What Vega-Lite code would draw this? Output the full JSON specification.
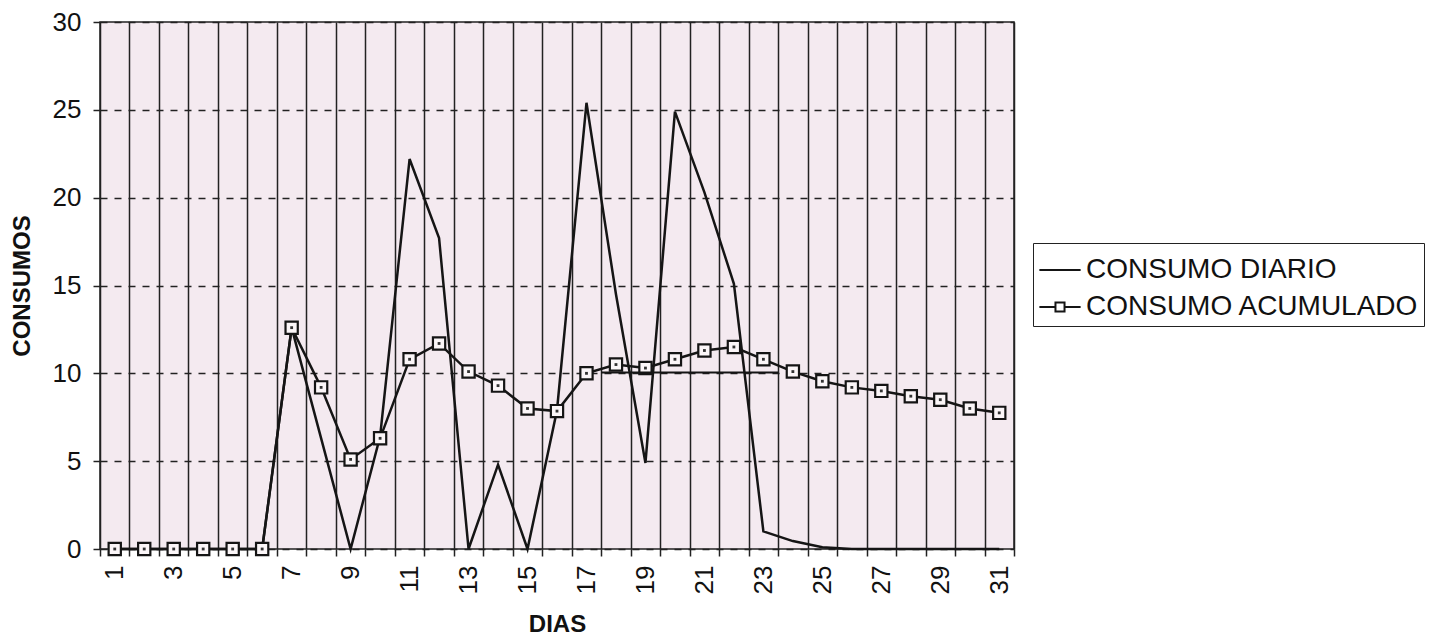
{
  "$schema": "https://vega.github.io/schema/vega-lite/v6.json",
  "width": 914,
  "height": 527,
  "autosize": "none",
  "padding": {"left": 100, "top": 22, "right": 429, "bottom": 92},
  "background": "white",
  "config": {
    "font": "Liberation Sans",
    "view": {"fill": "#f4eaf0", "stroke": "#222222", "strokeWidth": 1.5},
    "axis": {"labelFont": "Liberation Sans", "titleFont": "Liberation Sans", "labelColor": "#111111", "titleColor": "#111111", "domain": false, "tickColor": "#222222", "tickWidth": 1.5}
  },
  "datasets": {
    "consumo": [
      {"dia": 1, "CONSUMO DIARIO": 0, "CONSUMO ACUMULADO": 0},
      {"dia": 2, "CONSUMO DIARIO": 0, "CONSUMO ACUMULADO": 0},
      {"dia": 3, "CONSUMO DIARIO": 0, "CONSUMO ACUMULADO": 0},
      {"dia": 4, "CONSUMO DIARIO": 0, "CONSUMO ACUMULADO": 0},
      {"dia": 5, "CONSUMO DIARIO": 0, "CONSUMO ACUMULADO": 0},
      {"dia": 6, "CONSUMO DIARIO": 0, "CONSUMO ACUMULADO": 0},
      {"dia": 7, "CONSUMO DIARIO": 12.6, "CONSUMO ACUMULADO": 12.6},
      {"dia": 8, "CONSUMO DIARIO": 6.3, "CONSUMO ACUMULADO": 9.2},
      {"dia": 9, "CONSUMO DIARIO": 0, "CONSUMO ACUMULADO": 5.1},
      {"dia": 10, "CONSUMO DIARIO": 6.4, "CONSUMO ACUMULADO": 6.3},
      {"dia": 11, "CONSUMO DIARIO": 22.2, "CONSUMO ACUMULADO": 10.8},
      {"dia": 12, "CONSUMO DIARIO": 17.7, "CONSUMO ACUMULADO": 11.7},
      {"dia": 13, "CONSUMO DIARIO": 0, "CONSUMO ACUMULADO": 10.1},
      {"dia": 14, "CONSUMO DIARIO": 4.8, "CONSUMO ACUMULADO": 9.3},
      {"dia": 15, "CONSUMO DIARIO": 0, "CONSUMO ACUMULADO": 8.0},
      {"dia": 16, "CONSUMO DIARIO": 7.9, "CONSUMO ACUMULADO": 7.85},
      {"dia": 17, "CONSUMO DIARIO": 25.4, "CONSUMO ACUMULADO": 10.0},
      {"dia": 18, "CONSUMO DIARIO": 14.5, "CONSUMO ACUMULADO": 10.5},
      {"dia": 19, "CONSUMO DIARIO": 4.9, "CONSUMO ACUMULADO": 10.3},
      {"dia": 20, "CONSUMO DIARIO": 24.9, "CONSUMO ACUMULADO": 10.8},
      {"dia": 21, "CONSUMO DIARIO": 20.3, "CONSUMO ACUMULADO": 11.3},
      {"dia": 22, "CONSUMO DIARIO": 15.1, "CONSUMO ACUMULADO": 11.5},
      {"dia": 23, "CONSUMO DIARIO": 1.0, "CONSUMO ACUMULADO": 10.8},
      {"dia": 24, "CONSUMO DIARIO": 0.45, "CONSUMO ACUMULADO": 10.1},
      {"dia": 25, "CONSUMO DIARIO": 0.1, "CONSUMO ACUMULADO": 9.55},
      {"dia": 26, "CONSUMO DIARIO": 0, "CONSUMO ACUMULADO": 9.2},
      {"dia": 27, "CONSUMO DIARIO": 0, "CONSUMO ACUMULADO": 9.0},
      {"dia": 28, "CONSUMO DIARIO": 0, "CONSUMO ACUMULADO": 8.7},
      {"dia": 29, "CONSUMO DIARIO": 0, "CONSUMO ACUMULADO": 8.5},
      {"dia": 30, "CONSUMO DIARIO": 0, "CONSUMO ACUMULADO": 8.0},
      {"dia": 31, "CONSUMO DIARIO": 0, "CONSUMO ACUMULADO": 7.75}
    ],
    "tramo": [
      {"desde": 17.5, "hasta": 23.5, "nivel": 10.05}
    ]
  },
  "layer": [
    {
      "data": {"name": "consumo"},
      "transform": [{"fold": ["CONSUMO DIARIO", "CONSUMO ACUMULADO"], "as": ["serie", "valor"]}],
      "mark": {"type": "line", "strokeWidth": 2.5},
      "encoding": {
        "x": {
          "field": "dia", "type": "quantitative",
          "scale": {"domain": [0.5, 31.5], "nice": false, "zero": false},
          "axis": {
            "values": [0.5, 1.5, 2.5, 3.5, 4.5, 5.5, 6.5, 7.5, 8.5, 9.5, 10.5, 11.5, 12.5, 13.5, 14.5, 15.5, 16.5, 17.5, 18.5, 19.5, 20.5, 21.5, 22.5, 23.5, 24.5, 25.5, 26.5, 27.5, 28.5, 29.5, 30.5, 31.5],
            "tickCount": 40,
            "labelExpr": "((datum.value + 0.5) % 2 == 1 && datum.value < 31) ? '' + (datum.value + 0.5) : ''",
            "labelOffset": 14.74,
            "labelAngle": -90,
            "labelFontSize": 26,
            "labelPadding": 9,
            "labelFlush": false,
            "labelOverlap": false,
            "labelBound": false,
            "tickSize": 7,
            "grid": true,
            "gridColor": "#222222",
            "gridWidth": 1.5,
            "gridOpacity": 1,
            "title": "DIAS",
            "titleFontSize": 24,
            "titleFontWeight": "bold",
            "titlePadding": 19
          }
        },
        "y": {
          "field": "valor", "type": "quantitative",
          "scale": {"domain": [0, 30], "nice": false},
          "axis": {
            "values": [0, 5, 10, 15, 20, 25, 30],
            "labelFontSize": 26,
            "labelPadding": 12,
            "tickSize": 7,
            "grid": true,
            "gridColor": "#222222",
            "gridWidth": 1.5,
            "gridOpacity": 1,
            "gridDash": [7, 7],
            "title": "CONSUMOS",
            "titleFontSize": 24,
            "titleFontWeight": "bold",
            "titlePadding": 18
          }
        },
        "color": {
          "field": "serie", "type": "nominal",
          "scale": {"domain": ["CONSUMO DIARIO", "CONSUMO ACUMULADO"], "range": ["#151515", "#151515"]},
          "legend": {
            "title": null,
            "orient": "none",
            "legendX": 933,
            "legendY": 221,
            "direction": "vertical",
            "strokeColor": "#222222",
            "fillColor": "white",
            "padding": 5,
            "labelFont": "Liberation Sans",
            "labelFontSize": 28,
            "labelColor": "#111111",
            "labelLimit": 0,
            "labelOffset": 4,
            "symbolSize": 1700,
            "symbolStrokeWidth": 2,
            "symbolType": "stroke",
            "rowPadding": 1,
            "encode": {
              "symbols": {
                "update": {
                  "shape": {"signal": "datum.value == 'CONSUMO ACUMULADO' ? 'M-1,0H-0.22M0.22,0H1M-0.22,-0.22H0.22V0.22H-0.22Z' : 'stroke'"}
                }
              }
            }
          }
        }
      }
    },
    {
      "data": {"name": "consumo"},
      "mark": {"type": "point", "shape": "square", "size": 150, "filled": true, "fill": "#fbf6f8", "stroke": "#151515", "strokeWidth": 2.2, "opacity": 1},
      "encoding": {
        "x": {"field": "dia", "type": "quantitative"},
        "y": {"field": "CONSUMO ACUMULADO", "type": "quantitative"}
      }
    },
    {
      "data": {"name": "consumo"},
      "mark": {"type": "point", "shape": "square", "size": 8, "filled": true, "color": "#333333", "opacity": 1},
      "encoding": {
        "x": {"field": "dia", "type": "quantitative"},
        "y": {"field": "CONSUMO ACUMULADO", "type": "quantitative"}
      }
    },
    {
      "data": {"name": "tramo"},
      "mark": {"type": "rule", "color": "#151515", "strokeWidth": 2},
      "encoding": {
        "x": {"field": "desde", "type": "quantitative"},
        "x2": {"field": "hasta"},
        "y": {"field": "nivel", "type": "quantitative"}
      }
    }
  ]
}
